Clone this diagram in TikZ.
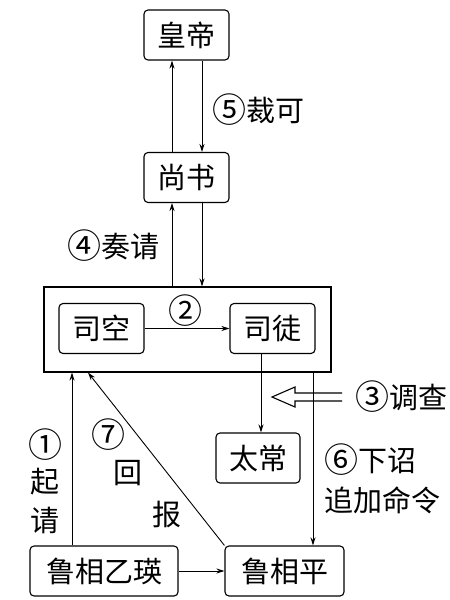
\documentclass[tikz,border=0pt]{standalone}
\usepackage{fontspec}
\setmainfont{Noto Sans CJK SC}
\usetikzlibrary{arrows.meta}
\newcommand{\cnum}[1]{{\fontsize{34}{30}\selectfont\raisebox{-1pt}{#1}}}
\begin{document}
\begin{tikzpicture}[x=1pt,y=-1pt,
  box/.style={draw,rounded corners=4pt,line width=1.1pt,minimum height=50pt,inner sep=0pt,font=\fontsize{29}{30}\selectfont},
  lbl/.style={inner sep=0pt,font=\fontsize{29}{30}\selectfont},
  arr/.style={line width=0.9pt,-{Stealth[length=8pt,width=5pt]}}]
\useasboundingbox (0,0) rectangle (450,600);
\node[box,minimum width=85pt] (huang) at (186.5,35) {皇帝};
\node[box,minimum width=85pt] (shang) at (186.5,177.5) {尚书};
\node[draw,line width=1.1pt,minimum width=287pt,minimum height=85pt,inner sep=0pt] (big) at (187.5,329.5) {};
\node[box,minimum width=85pt] (sikong) at (101.5,328.5) {司空};
\node[box,minimum width=85pt] (situ) at (272.5,328.5) {司徒};
\node[box,minimum width=84pt] (taichang) at (258,458) {太常};
\node[box,minimum width=148pt] (yiying) at (104,571) {鲁相乙瑛};
\node[box,minimum width=119pt] (ping) at (284.5,571) {鲁相平};
\coordinate (xa) at (172,0);
\coordinate (xb) at (202,0);
\coordinate (xc) at (261,0);
\coordinate (xd) at (313,0);
\coordinate (xe) at (72,0);
\coordinate (xf) at (88,0);
\draw[arr] (shang.north -| xa) -- (huang.south -| xa);
\draw[arr] (huang.south -| xb) -- (shang.north -| xb);
\draw[arr] (big.north -| xa) -- (shang.south -| xa);
\draw[arr] (shang.south -| xb) -- (big.north -| xb);
\draw[arr] (sikong.east) -- (situ.west);
\draw[arr] (situ.south -| xc) -- (taichang.north -| xc);
\draw[arr] (big.south -| xd) -- (ping.north -| xd);
\draw[arr] (yiying.north -| xe) -- (big.south -| xe);
\draw[arr] (ping.north west) -- (big.south -| xf);
\draw[arr] (yiying.east) -- (ping.west);
\draw[line width=1.1pt] (342,393) -- (295,393) -- (295,387) -- (272,397) -- (295,407) -- (295,401) -- (342,401);
\node[lbl] (l5) at (258,110) {\cnum{⑤}裁可};
\node[lbl] (l4) at (113,246) {\cnum{④}奏请};
\node[lbl] (l2) at (185,311) {\cnum{②}};
\node[lbl] (l3) at (401,397) {\cnum{③}调查};
\node[lbl,anchor=west] (l6a) at (324,460) {\cnum{⑥}下诏};
\node[lbl,anchor=west] (l6b) at (324,500) {追加命令};
\node[lbl] (l1a) at (45,445) {\cnum{①}};
\node[lbl] (l1b) at (45,482) {起};
\node[lbl] (l1c) at (45,520) {请};
\node[lbl] (l7a) at (108,435) {\cnum{⑦}};
\node[lbl] (l7b) at (128,473) {回};
\node[lbl] (l7c) at (167,515) {报};
\end{tikzpicture}
\end{document}
